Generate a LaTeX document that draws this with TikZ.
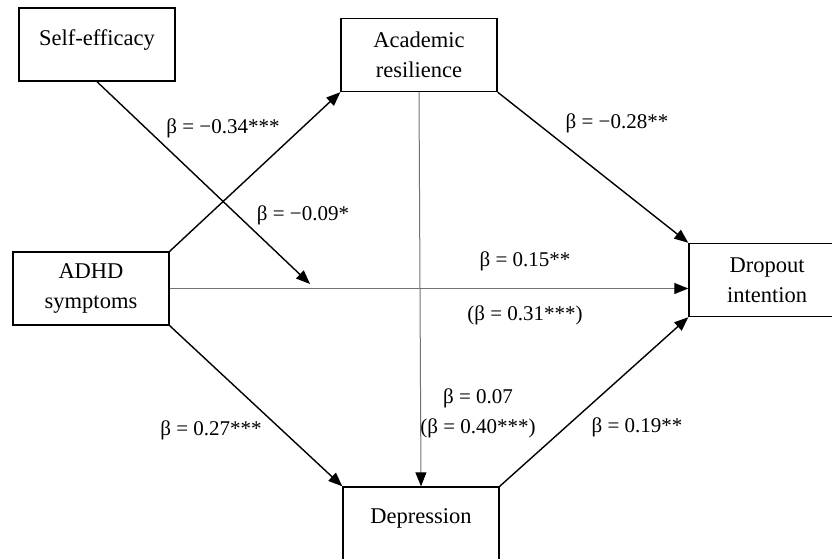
\documentclass[tikz,border=0pt]{standalone}
\usepackage{fontspec}
\setmainfont{Liberation Serif}
\usepackage{tikz}
\usetikzlibrary{arrows.meta, positioning, calc}

\begin{document}
\begin{tikzpicture}[x=1pt, y=-1pt,
    var/.style={rectangle, draw, line width=1.4pt, minimum width=156pt, minimum height=73pt, align=center, font=\fontsize{22.5}{30}\selectfont},
    onevar/.style={var, text depth=14pt},
    coef/.style={align=center, font=\fontsize{21}{30}\selectfont},
    path/.style={-{Triangle[length=14pt, width=11pt]}, line width=1.4pt},
    thinpath/.style={-{Triangle[length=14pt, width=11pt, color=black]}, line width=1pt, black!55}
]
\useasboundingbox (0,0) rectangle (832,559);
\clip (0,0) rectangle (832,559);

\node[onevar] (self) at (97,44.5) {Self-efficacy};
\node[var] (acad) at (419,55) {Academic\\resilience};
\node[var] (adhd) at (91,288.5) {ADHD\\symptoms};
\node[var] (drop) at (767,280) {Dropout\\intention};
\node[onevar] (dep) at (421,523.5) {Depression};
\coordinate (mod) at (310,284);

\draw[path] (adhd.north east) -- (acad.south west);
\draw[path] (adhd.south east) -- (dep.north west);
\draw[path] (acad.south east) -- (drop.north west);
\draw[path] (dep.north east) -- (drop.south west);
\draw[thinpath] (adhd.east) -- (adhd.east -| drop.west);
\draw[thinpath] (acad.south) -- (dep.north);
\draw[path] (self.south) -- (mod);

\node[coef] (a1) at (223,128) {β = −0.34***};
\node[coef] (b1) at (617,123) {β = −0.28**};
\node[coef] (m1) at (303,215) {β = −0.09*};
\node[coef] (c1) at (525,261) {β = 0.15**};
\node[coef] (c2) at (525,315) {(β = 0.31***)};
\node[coef] (a2) at (211,430) {β = 0.27***};
\node[coef] (d1) at (478,413) {β = 0.07\\(β = 0.40***)};
\node[coef] (b2) at (637,427) {β = 0.19**};
\end{tikzpicture}
\end{document}
